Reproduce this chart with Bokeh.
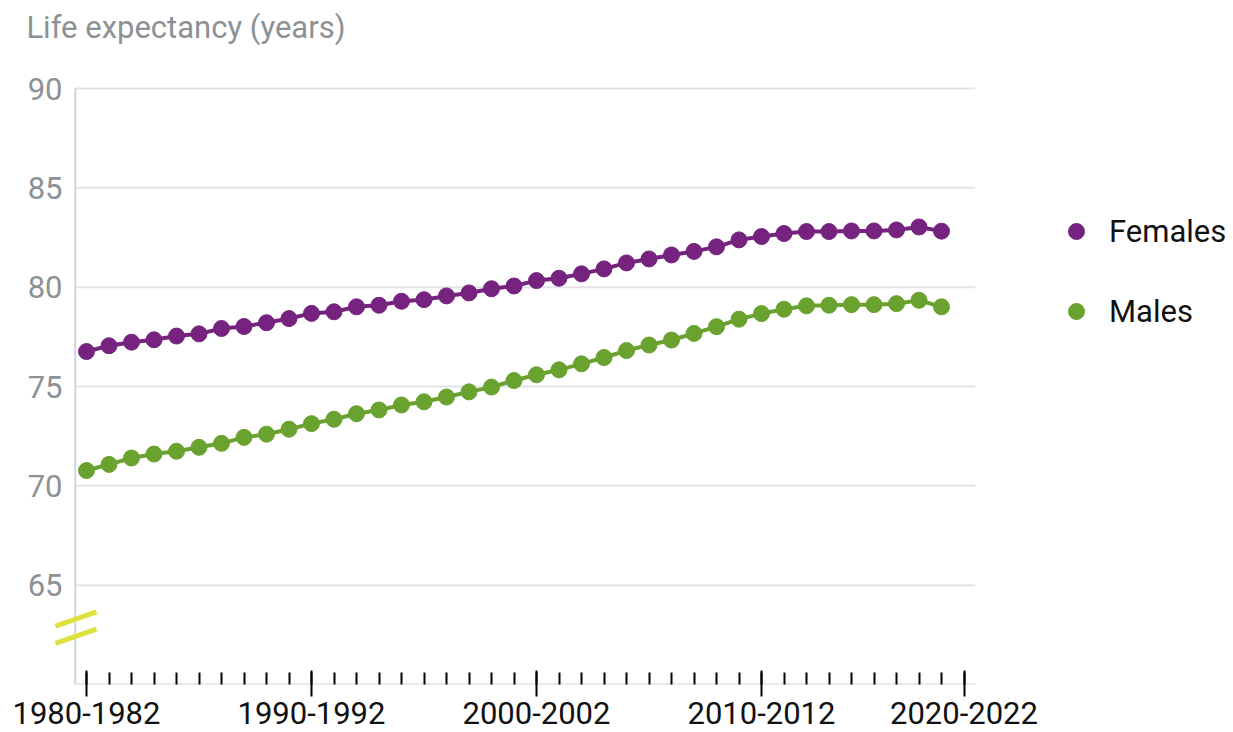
from bokeh.plotting import figure
from bokeh.models import (FixedTicker, Legend, LegendItem, Label,
                          ColumnDataSource, Range1d)
from bokeh.embed import file_html
from bokeh.resources import INLINE

periods = ["1980-1982", "1981-1983", "1982-1984", "1983-1985", "1984-1986",
           "1985-1987", "1986-1988", "1987-1989", "1988-1990", "1989-1991",
           "1990-1992", "1991-1993", "1992-1994", "1993-1995", "1994-1996",
           "1995-1997", "1996-1998", "1997-1999", "1998-2000", "1999-2001",
           "2000-2002", "2001-2003", "2002-2004", "2003-2005", "2004-2006",
           "2005-2007", "2006-2008", "2007-2009", "2008-2010", "2009-2011",
           "2010-2012", "2011-2013", "2012-2014", "2013-2015", "2014-2016",
           "2015-2017", "2016-2018", "2017-2019", "2018-2020"]

females = [76.76, 77.05, 77.23, 77.35, 77.54, 77.65, 77.92, 78.02, 78.21, 78.42,
           78.68, 78.76, 79.01, 79.09, 79.29, 79.37, 79.56, 79.71, 79.92, 80.06,
           80.33, 80.45, 80.67, 80.92, 81.22, 81.42, 81.62, 81.80, 82.03, 82.38,
           82.55, 82.70, 82.80, 82.80, 82.83, 82.83, 82.88, 83.03, 82.82]

males = [70.77, 71.08, 71.40, 71.60, 71.74, 71.94, 72.14, 72.44, 72.60, 72.85,
         73.13, 73.35, 73.63, 73.82, 74.07, 74.23, 74.47, 74.73, 74.97, 75.30,
         75.59, 75.84, 76.14, 76.46, 76.81, 77.09, 77.34, 77.67, 78.01, 78.39,
         78.67, 78.89, 79.06, 79.09, 79.12, 79.12, 79.17, 79.34, 79.01]

x_tick_index = [0, 10, 20, 30, 39]
x_tick_labels = ["1980-1982", "1990-1992", "2000-2002", "2010-2012", "2020-2022"]
y_ticks = [65, 70, 75, 80, 85, 90]

PURPLE = "#76237f"
GREEN = "#6aa22f"
YELLOW = "#dde23e"
GRAY_TEXT = "#8c9195"
GRID = "#e2e4ea"
AXIS = "#d3d6db"
FONT = "Roboto"
FS = "31px"

# layout (pixels)
W, H = 1233, 732
FRAME_LEFT = 20
FRAME_BOTTOM_BORDER = 48
FRAME_W = W - FRAME_LEFT
FRAME_H = H - FRAME_BOTTOM_BORDER
PX_X = 22.5                       # pixels per period
FIRST_X = 86                      # canvas x of first period
TOP_GRID_Y = 88                   # canvas y of the 90 gridline

# plotted extent of the axes
x_lo, x_hi = -0.5, 39.5
y_lo, y_hi = 60, 90

PX_Y = (FRAME_H - TOP_GRID_Y) / (y_hi - y_lo)

x_start = -(FIRST_X - FRAME_LEFT) / PX_X
x_end = x_start + FRAME_W / PX_X
y_start = y_lo
y_end = y_start + FRAME_H / PX_Y

src = ColumnDataSource(dict(x=list(range(len(periods))), period=periods,
                            females=females, males=males))

p = figure(width=W, height=H,
           x_range=Range1d(x_start, x_end), y_range=Range1d(y_start, y_end),
           output_backend="svg", toolbar_location=None,
           min_border_left=FRAME_LEFT, min_border_right=0, min_border_top=0,
           min_border_bottom=FRAME_BOTTOM_BORDER)
p.outline_line_color = None
p.border_fill_color = "white"
p.background_fill_color = "white"
p.xgrid.grid_line_color = None
p.ygrid.grid_line_color = None

# x axis (ticks + labels; line drawn separately)
p.xaxis.ticker = FixedTicker(ticks=x_tick_index, minor_ticks=list(range(40)))
p.xaxis.major_label_overrides = {i: l for i, l in zip(x_tick_index, x_tick_labels)}
p.xaxis.axis_line_color = None
p.xaxis.major_tick_line_color = "black"
p.xaxis.major_tick_line_width = 2
p.xaxis.major_tick_in = 14
p.xaxis.major_tick_out = 12
p.xaxis.minor_tick_line_color = "black"
p.xaxis.minor_tick_line_width = 2
p.xaxis.minor_tick_in = 12
p.xaxis.minor_tick_out = 0
p.xaxis.major_label_standoff = 5
p.xaxis.major_label_text_font = FONT
p.xaxis.major_label_text_font_size = FS
p.xaxis.major_label_text_color = "#111111"

# y axis (labels only)
p.yaxis.ticker = FixedTicker(ticks=y_ticks)
p.yaxis.axis_line_color = None
p.yaxis.major_tick_line_color = None
p.yaxis.minor_tick_line_color = None
p.yaxis.major_tick_out = 0
p.yaxis.major_tick_in = 0
p.yaxis.major_label_standoff = -42
p.yaxis.major_label_text_font = FONT
p.yaxis.major_label_text_font_size = FS
p.yaxis.major_label_text_color = GRAY_TEXT

# gridlines and axis lines
p.segment(x0=x_lo, x1=x_hi, y0=y_ticks, y1=y_ticks, line_color=GRID, line_width=2)
p.segment(x0=[x_lo], x1=[x_lo], y0=[y_lo], y1=[y_hi], line_color=AXIS, line_width=2)
p.segment(x0=[x_lo], x1=[x_hi], y0=[y_lo], y1=[y_lo], line_color=AXIS, line_width=2)

# series
p.line("x", "females", source=src, line_color=PURPLE, line_width=4)
rf = p.scatter("x", "females", source=src, size=16, fill_color=PURPLE, line_color=PURPLE)
p.line("x", "males", source=src, line_color=GREEN, line_width=4)
rm = p.scatter("x", "males", source=src, size=16, fill_color=GREEN, line_color=GREEN)

# axis break marks
p.segment(x0=[-1.38, -1.38], y0=[62.94, 62.07], x1=[0.44, 0.44], y1=[63.65, 62.79],
          line_color=YELLOW, line_width=5)

# title
p.add_layout(Label(x=-2.67, y=y_lo + (FRAME_H - 27) / PX_Y, x_units="data", y_units="data",
                   text="Life expectancy (years)", text_font=FONT, text_font_size=FS,
                   text_color=GRAY_TEXT, text_baseline="alphabetic"))

legend = Legend(items=[LegendItem(label="Females", renderers=[rf]),
                       LegendItem(label="Males", renderers=[rm])],
                location=(1056 - FRAME_LEFT, FRAME_H - 331),
                glyph_width=40, glyph_height=40, spacing=40, padding=0, margin=0,
                label_standoff=13, label_text_font=FONT, label_text_font_size=FS,
                label_text_color="#111111", border_line_color=None,
                background_fill_alpha=0)
p.add_layout(legend, "center")

open("out.html", "w").write(file_html(p, INLINE))
